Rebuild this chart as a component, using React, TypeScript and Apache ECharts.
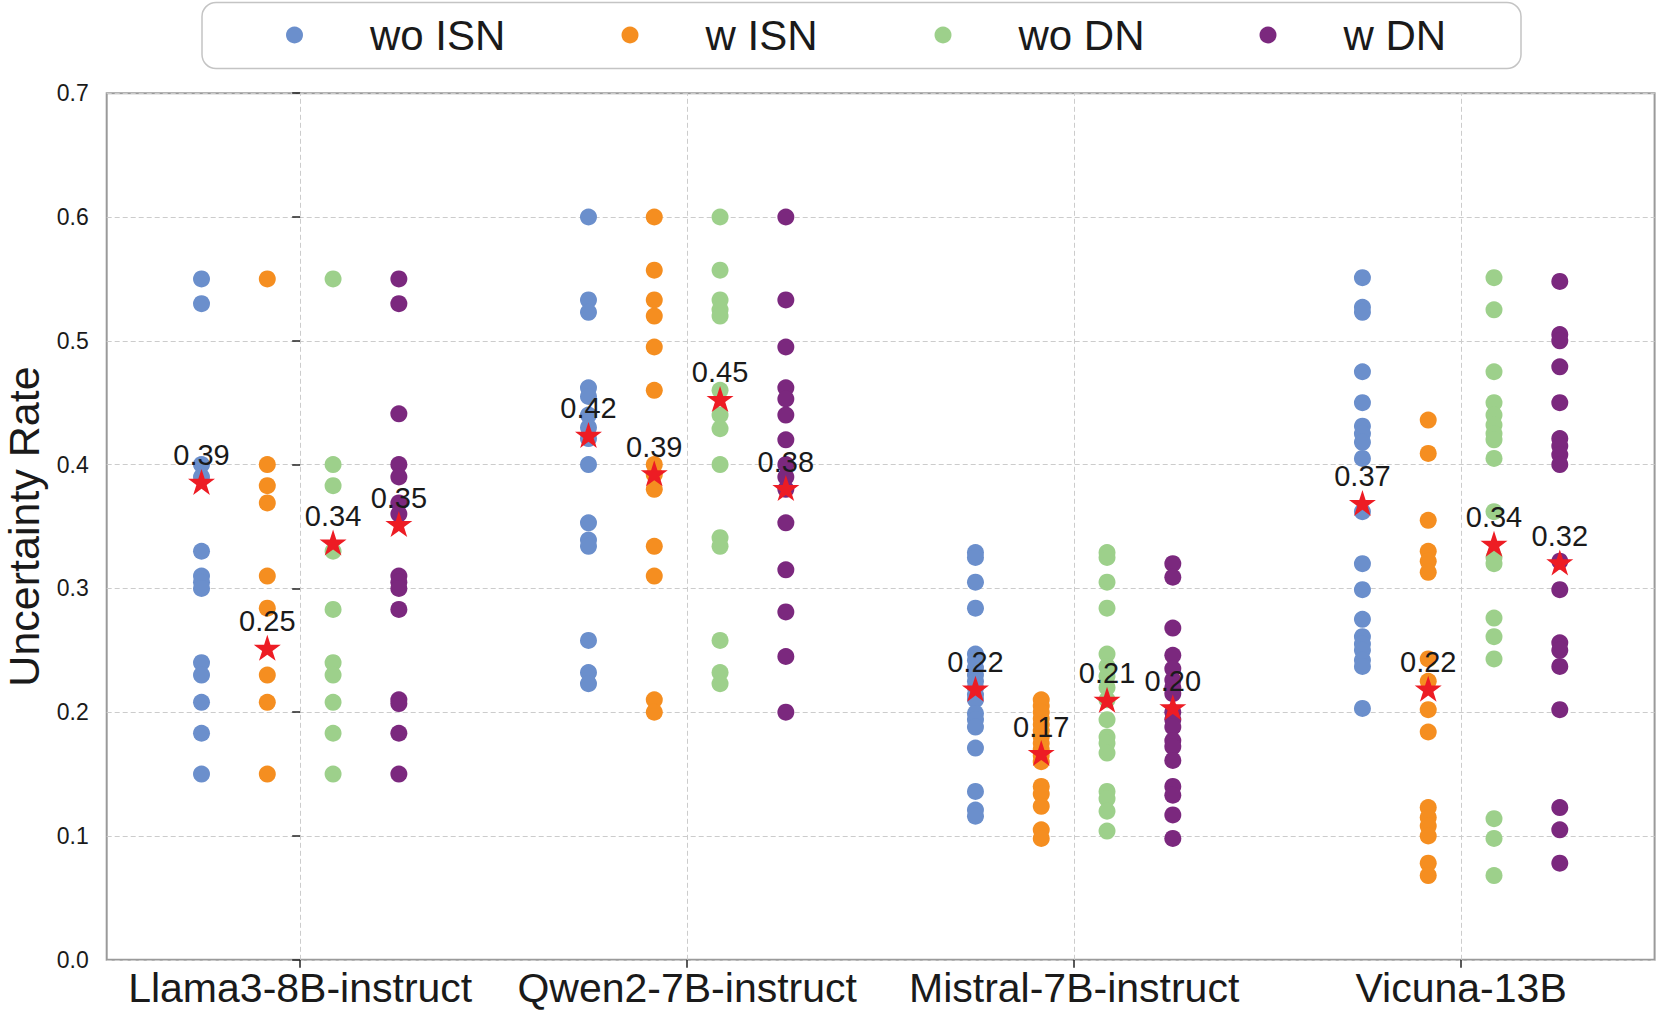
import React, { useEffect, useRef } from 'react';
import * as echarts from 'echarts';

const categories = ['Llama3-8B-instruct', 'Qwen2-7B-instruct', 'Mistral-7B-instruct', 'Vicuna-13B'];
const seriesNames = ['wo ISN', 'w ISN', 'wo DN', 'w DN'];
const seriesColors = ['#6B8FCC', '#F58E20', '#9DD08B', '#7B287E'];
const xOffsets = [-0.255, -0.085, 0.085, 0.255];

// values per category: [Llama, Qwen, Mistral, Vicuna]
const woISN = [
  [0.55, 0.53, 0.40, 0.39, 0.33, 0.31, 0.305, 0.30, 0.24, 0.23, 0.208, 0.183, 0.15],
  [0.60, 0.533, 0.523, 0.462, 0.455, 0.44, 0.43, 0.421, 0.40, 0.353, 0.339, 0.334, 0.258, 0.232, 0.223],
  [0.329, 0.325, 0.305, 0.284, 0.247, 0.242, 0.236, 0.23, 0.225, 0.22, 0.214, 0.21, 0.199, 0.194, 0.188, 0.171, 0.136, 0.121, 0.116],
  [0.551, 0.527, 0.523, 0.475, 0.45, 0.431, 0.425, 0.418, 0.405, 0.362, 0.32, 0.299, 0.275, 0.261, 0.255, 0.25, 0.242, 0.237, 0.203],
];
const wISN = [
  [0.55, 0.40, 0.383, 0.369, 0.31, 0.284, 0.23, 0.208, 0.15],
  [0.60, 0.557, 0.533, 0.52, 0.495, 0.46, 0.40, 0.392, 0.38, 0.334, 0.31, 0.21, 0.20],
  [0.21, 0.205, 0.2, 0.195, 0.19, 0.185, 0.18, 0.175, 0.17, 0.165, 0.16, 0.14, 0.134, 0.124, 0.105, 0.098],
  [0.436, 0.409, 0.355, 0.33, 0.322, 0.313, 0.243, 0.225, 0.202, 0.184, 0.123, 0.115, 0.108, 0.10, 0.078, 0.068],
];
const woDN = [
  [0.55, 0.40, 0.383, 0.33, 0.283, 0.24, 0.23, 0.208, 0.183, 0.15],
  [0.60, 0.557, 0.533, 0.525, 0.52, 0.46, 0.44, 0.429, 0.40, 0.341, 0.334, 0.258, 0.232, 0.223],
  [0.329, 0.325, 0.305, 0.284, 0.247, 0.237, 0.229, 0.22, 0.21, 0.194, 0.18, 0.175, 0.167, 0.136, 0.13, 0.12, 0.104],
  [0.551, 0.525, 0.475, 0.45, 0.44, 0.432, 0.425, 0.42, 0.405, 0.362, 0.325, 0.32, 0.276, 0.261, 0.243, 0.114, 0.098, 0.068],
];
const wDN = [
  [0.55, 0.53, 0.441, 0.40, 0.39, 0.369, 0.36, 0.31, 0.305, 0.30, 0.283, 0.21, 0.207, 0.183, 0.15],
  [0.60, 0.533, 0.495, 0.462, 0.453, 0.44, 0.42, 0.40, 0.39, 0.38, 0.353, 0.315, 0.281, 0.245, 0.20],
  [0.32, 0.309, 0.268, 0.246, 0.235, 0.226, 0.22, 0.215, 0.20, 0.194, 0.188, 0.177, 0.172, 0.161, 0.14, 0.133, 0.117, 0.098],
  [0.548, 0.505, 0.50, 0.479, 0.45, 0.421, 0.415, 0.408, 0.40, 0.322, 0.299, 0.256, 0.25, 0.237, 0.202, 0.123, 0.105, 0.078],
];

// mean markers (stars), per category
const meanWoISN = [0.386, 0.424, 0.219, 0.369];
const meanWISN = [0.252, 0.393, 0.167, 0.219];
const meanWoDN = [0.337, 0.453, 0.210, 0.336];
const meanWDN = [0.352, 0.381, 0.204, 0.321];

const yMin = 0;
const yMax = 0.7;
const yInterval = 0.1;

const FONT = 'Liberation Sans, Arial, Helvetica, sans-serif';
const STAR =
  'path://M0,-1L0.2245,-0.309L0.951,-0.309L0.363,0.118L0.588,0.809L0,0.382L-0.588,0.809L-0.363,0.118L-0.951,-0.309L-0.2245,-0.309Z';

// legend layout (pixel positions of each legend marker's left edge)
const legendLefts = [286, 621.5, 934.5, 1259.5];

export default function App() {
  const ref = useRef<HTMLDivElement>(null);
  useEffect(() => {
    if (!ref.current) return;
    const chart = echarts.init(ref.current, null, { renderer: 'svg' });
    const allValues = [woISN, wISN, woDN, wDN];
    const allMeans = [meanWoISN, meanWISN, meanWoDN, meanWDN];

    const pointSeries = seriesNames.map((name, s) => ({
      type: 'scatter',
      name,
      xAxisIndex: 1,
      yAxisIndex: 0,
      symbol: 'circle',
      symbolSize: 17,
      z: 2,
      itemStyle: { color: seriesColors[s], opacity: 1 },
      data: allValues[s].flatMap((vals, c) => vals.map((v) => [c + xOffsets[s], v])),
    }));

    const starData = allMeans.flatMap((means, s) => means.map((m, c) => [c + xOffsets[s], m]));

    const legends = seriesNames.map((name, i) => ({
      data: [name],
      left: legendLefts[i],
      top: 14,
      padding: 0,
      itemWidth: 17,
      itemHeight: 17,
      icon: 'circle',
      z: 5,
      selectedMode: false,
      textStyle: { fontSize: 42, color: '#1a1a1a', fontFamily: FONT, padding: [0, 0, 0, 62] },
    }));

    const option = {
      animation: false,
      backgroundColor: '#ffffff',
      textStyle: { fontFamily: FONT },
      grid: {
        left: 106.7,
        right: 6.4,
        top: 93.2,
        bottom: 52.2,
        show: true,
        outerBoundsMode: 'none',
        containLabel: false,
        borderColor: '#9a9a9a',
        borderWidth: 2,
        backgroundColor: 'transparent',
      },
      graphic: [
        {
          type: 'rect',
          z: 0,
          shape: { x: 202, y: 2.5, width: 1319, height: 66, r: 14 },
          style: { fill: '#ffffff', stroke: '#c4c4c4', lineWidth: 1.5 },
        },
      ],
      legend: legends,
      xAxis: [
        {
          type: 'category',
          data: categories,
          boundaryGap: true,
          axisLine: { show: false },
          axisTick: { show: true, alignWithLabel: true, length: 8, lineStyle: { color: '#222', width: 1.5 } },
          axisLabel: {
            interval: 0,
            fontSize: 41,
            lineHeight: 41,
            color: '#1a1a1a',
            margin: 8,
            fontFamily: FONT,
          },
          splitLine: { show: false },
        },
        {
          type: 'value',
          min: -0.5,
          max: categories.length - 0.5,
          show: false,
          splitLine: { show: false },
        },
      ],
      yAxis: {
        type: 'value',
        min: yMin,
        max: yMax,
        interval: yInterval,
        name: 'Uncertainty Rate',
        nameLocation: 'middle',
        nameRotate: 90,
        nameGap: 61,
        nameTextStyle: { fontSize: 43, color: '#1a1a1a', fontFamily: FONT },
        axisLine: { show: false },
        axisTick: { show: true, length: 8, lineStyle: { color: '#222', width: 1.5 } },
        axisLabel: {
          fontSize: 23,
          color: '#1a1a1a',
          margin: 18,
          fontFamily: FONT,
          formatter: (v: number) => v.toFixed(1),
        },
        splitLine: { show: true, lineStyle: { color: '#cccccc', width: 1, type: [5, 3] } },
      },
      series: [
        {
          type: 'scatter',
          name: '_grid',
          xAxisIndex: 1,
          yAxisIndex: 0,
          data: [],
          z: 0,
          silent: true,
          markLine: {
            silent: true,
            symbol: ['none', 'none'],
            label: { show: false },
            lineStyle: { color: '#cccccc', width: 1, type: [5, 3] },
            data: categories.map((_, i) => ({ xAxis: i })),
          },
        },
        ...pointSeries,
        {
          type: 'scatter',
          name: 'mean',
          xAxisIndex: 1,
          yAxisIndex: 0,
          symbol: STAR,
          symbolSize: [27, 26],
          z: 4,
          itemStyle: { color: '#ED1C24', opacity: 1 },
          label: {
            show: true,
            position: 'top',
            distance: -1,
            fontSize: 29,
            color: '#1a1a1a',
            fontFamily: FONT,
            formatter: (p: any) => Number(p.value[1]).toFixed(2),
          },
          data: starData,
        },
      ],
    };
    chart.setOption(option as any);
    return () => chart.dispose();
  }, []);
  return (
    <div
      ref={ref}
      style={{ position: 'fixed', left: 0, top: 0, width: 1661, height: 1012, background: '#fff' }}
    />
  );
}
